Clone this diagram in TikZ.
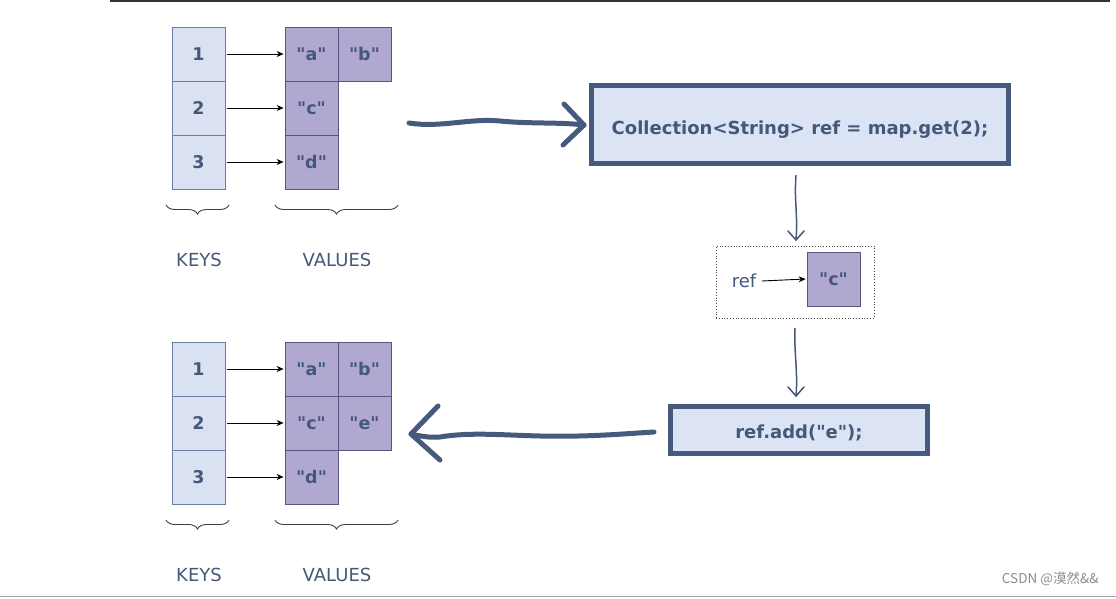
\documentclass[tikz,border=0pt]{standalone}
\usepackage{fontspec}
\newfontfamily\dv{DejaVu Sans}
\newfontfamily\cjkfont{Noto Sans CJK SC}
\usetikzlibrary{decorations.pathreplacing,arrows.meta}
\definecolor{keyfill}{HTML}{DAE1F3}
\definecolor{keydraw}{HTML}{6C7FA3}
\definecolor{valfill}{HTML}{B1A8D2}
\definecolor{valdraw}{HTML}{56577F}
\definecolor{txt}{HTML}{44587A}
\definecolor{boxfill}{HTML}{DCE3F4}
\definecolor{boxdraw}{HTML}{465A7E}
\tikzset{
  keybox/.style={draw=keydraw, fill=keyfill, line width=0.8pt, minimum width=53pt, minimum height=54pt, inner sep=0pt, text=txt, font=\dv\fontsize{17.5}{20}\selectfont\bfseries},
  valbox/.style={draw=valdraw, fill=valfill, line width=0.8pt, minimum width=53pt, minimum height=54pt, inner sep=0pt, text=txt, font=\dv\fontsize{17.5}{20}\selectfont\bfseries},
  ptr/.style={-{Stealth[length=7pt,width=6pt]}, line width=0.9pt, black},
  lbl/.style={text=txt, font=\dv\fontsize{18}{20}\selectfont},
  brc/.style={decorate, decoration={brace, mirror, amplitude=9pt}, line width=0.9pt, black!75},
  codebox/.style={draw=boxdraw, fill=boxfill, line width=5pt, inner sep=0pt, text=txt, font=\dv\fontsize{18}{20}\selectfont\bfseries},
  thick arrow/.style={draw=boxdraw, line width=5pt, line cap=round, line join=round},
  thin arrow/.style={draw=txt, line width=1.5pt, line cap=round, line join=round},
}
\begin{document}
\begin{tikzpicture}[x=1pt,y=-1pt]
\useasboundingbox (0,0) rectangle (1116,598);
\draw[line width=2pt, black!80] (110,0.5) -- (1110,0.5);
\draw[line width=1.5pt, black!35] (0,596.5) -- (1116,596.5);

% ---------- top map ----------
\node[keybox] (k1) at (198.5,54) {1};
\node[keybox] (k2) at (198.5,108) {2};
\node[keybox] (k3) at (198.5,162) {3};
\node[valbox] (va) at (311.5,54) {"a"};
\node[valbox] (vb) at (364.5,54) {"b"};
\node[valbox] (vc) at (311.5,108) {"c"};
\node[valbox] (vd) at (311.5,162) {"d"};
\draw[ptr] ([xshift=2pt]k1.east) -- ([xshift=-1pt]va.west);
\draw[ptr] ([xshift=2pt]k2.east) -- ([xshift=-1pt]vc.west);
\draw[ptr] ([xshift=2pt]k3.east) -- ([xshift=-1pt]vd.west);
\coordinate (kb1) at (166,205); \coordinate (kb2) at (229,205);
\coordinate (vb1) at (275,205); \coordinate (vb2) at (398,205);
\draw[brc] (kb1) -- (kb2);
\draw[brc] (vb1) -- (vb2);
\node[lbl] (keys1) at (199,260) {KEYS};
\node[lbl] (vals1) at (337,260) {VALUES};

% ---------- bottom map ----------
\node[keybox] (bk1) at (198.5,369) {1};
\node[keybox] (bk2) at (198.5,423) {2};
\node[keybox] (bk3) at (198.5,477) {3};
\node[valbox] (bva) at (311.5,369) {"a"};
\node[valbox] (bvb) at (364.5,369) {"b"};
\node[valbox] (bvc) at (311.5,423) {"c"};
\node[valbox] (bve) at (364.5,423) {"e"};
\node[valbox] (bvd) at (311.5,477) {"d"};
\draw[ptr] ([xshift=2pt]bk1.east) -- ([xshift=-1pt]bva.west);
\draw[ptr] ([xshift=2pt]bk2.east) -- ([xshift=-1pt]bvc.west);
\draw[ptr] ([xshift=2pt]bk3.east) -- ([xshift=-1pt]bvd.west);
\coordinate (bkb1) at (166,520); \coordinate (bkb2) at (229,520);
\coordinate (bvb1) at (275,520); \coordinate (bvb2) at (398,520);
\draw[brc] (bkb1) -- (bkb2);
\draw[brc] (bvb1) -- (bvb2);
\node[lbl] (keys2) at (199,575) {KEYS};
\node[lbl] (vals2) at (337,575) {VALUES};

% ---------- code boxes ----------
\node[codebox, minimum width=417pt, minimum height=78pt] (get) at (800,124) {\raisebox{-6pt}[\height][\depth]{Collection<String> ref = map.get(2);}};
\node[codebox, minimum width=257pt, minimum height=47pt] (add) at (799,430) {\raisebox{-3pt}[\height][\depth]{ref.add("e");}};

% ---------- ref box ----------
\node[draw=black!70, dotted, line width=0.8pt, minimum width=158pt, minimum height=72pt] (refbox) at (795,282) {};
\node[lbl] (reflbl) at (744,281) {ref};
\node[valbox] (rc) at (833.5,279) {"c"};
\draw[ptr] ([xshift=2pt]reflbl.east) -- ([xshift=-1pt]rc.west);

% ---------- thick hand-drawn arrows ----------
\coordinate (a1s) at (409,123);
\coordinate (a1e) at (584,125);
\draw[thick arrow] (a1s) .. controls (440,128) and (470,118) .. (500,121) .. controls (530,124) and (560,122) .. (a1e);
\draw[thick arrow] (564,104) -- (a1e) -- (563,145);

\coordinate (a2s) at (654,432);
\coordinate (a2e) at (411,434);
\draw[thick arrow] (a2s) .. controls (620,434) and (590,437) .. (540,436) .. controls (500,435) and (470,432) .. (440,437) .. controls (430,438) and (420,436) .. (a2e);
\draw[thick arrow] (438,406) -- (a2e) -- (440,460);

% ---------- thin down arrows ----------
\coordinate (d1e) at (796,240);
\draw[thin arrow] ([xshift=-4pt,yshift=-10pt]get.south) .. controls (794,200) and (798,215) .. (d1e);
\draw[thin arrow] (788,231) -- (d1e) -- (804,231);
\coordinate (d2e) at (796,396);
\draw[thin arrow] ([yshift=-10pt]refbox.south) .. controls (794,355) and (798,370) .. (d2e);
\draw[thin arrow] (788,387) -- (d2e) -- (804,387);

% ---------- watermark ----------
\node[text=black!45, font=\fontsize{13.5}{15}\selectfont\cjkfont, anchor=east] (wm) at (1102,579) {CSDN @漠然\&\&};
\end{tikzpicture}
\end{document}
